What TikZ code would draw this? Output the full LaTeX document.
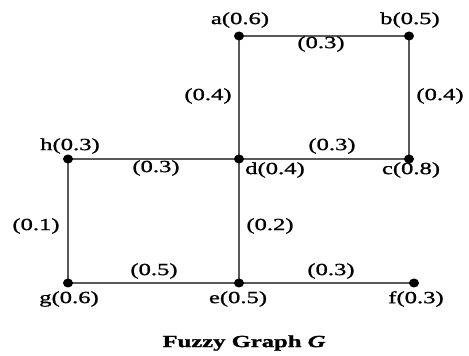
\documentclass[tikz,border=0pt]{standalone}
\usepackage{fontspec}
\setmainfont[FakeStretch=1.45,FakeBold=1.2]{Liberation Serif}
\begin{document}
\begin{tikzpicture}[x=1pt,y=1pt,
  vtx/.style={ellipse,fill=black,minimum width=10pt,minimum height=9pt,inner sep=0pt},
  lbl/.style={inner sep=0pt,font=\fontsize{17}{20}\selectfont,text=black},
  edge/.style={draw=black!65,line width=1.9pt}]
\useasboundingbox (0,0) rectangle (469,356);
\coordinate (a) at (239,320);
\coordinate (b) at (409,320);
\coordinate (d) at (239,197);
\coordinate (c) at (409,197);
\coordinate (h) at (68,197);
\coordinate (g) at (68,73);
\coordinate (e) at (239,73);
\coordinate (f) at (414,73);
\draw[edge] (a) -- (b);
\draw[edge] (b) -- (c);
\draw[edge] (a) -- (d);
\draw[edge] (d) -- (c);
\draw[edge] (h) -- (d);
\draw[edge] (h) -- (g);
\draw[edge] (d) -- (e);
\draw[edge] (g) -- (e);
\draw[edge] (e) -- (f);
\foreach \n in {a,b,c,d,e,f,g,h} \fill (\n) circle[x radius=5pt,y radius=4.5pt];
\node[lbl] (la) at (240,336) {a(0.6)};
\node[lbl] (lb) at (410,336) {b(0.5)};
\node[lbl] (lab) at (321,312) {(0.3)};
\node[lbl] (lad) at (208,260) {(0.4)};
\node[lbl] (lbc) at (440,260) {(0.4)};
\node[lbl] (lh) at (70,210) {h(0.3)};
\node[lbl] (lhd) at (156,188) {(0.3)};
\node[lbl] (ldc) at (332,210) {(0.3)};
\node[lbl] (ld) at (275,186) {d(0.4)};
\node[lbl] (lc) at (411,186) {c(0.8)};
\node[lbl] (lhg) at (36,130) {(0.1)};
\node[lbl] (lde) at (270,130) {(0.2)};
\node[lbl] (lge) at (154,85) {(0.5)};
\node[lbl] (lef) at (331,85) {(0.3)};
\node[lbl] (lg) at (69,57) {g(0.6)};
\node[lbl] (le) at (238,57) {e(0.5)};
\node[lbl] (lf) at (416,57) {f(0.3)};
\node[lbl] (title) at (244,13) {\textbf{Fuzzy Graph \textit{G}}};
\end{tikzpicture}
\end{document}
